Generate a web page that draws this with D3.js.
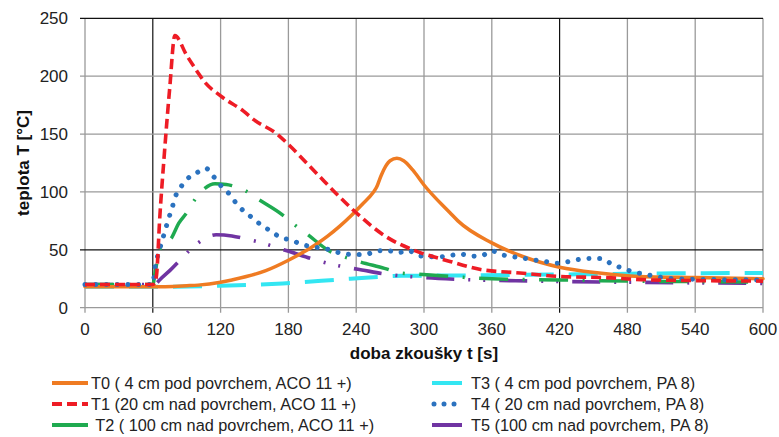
<!DOCTYPE html>
<html><head><meta charset="utf-8">
<script src="https://cdn.jsdelivr.net/npm/d3@7"></script>
<style>body{margin:0;background:#fff}svg{display:block}text{font-family:"Liberation Sans",Arial,sans-serif}</style>
</head><body>
<svg id="c" width="779" height="437"></svg>
<script>
const xTicks = [0,60,120,180,240,300,360,420,480,540,600];
const yTicks = [0,50,100,150,200,250];
const seriesNames = [
  "T0 ( 4 cm pod povrchem, ACO 11 +)",
  "T1 (20 cm nad povrchem, ACO 11 +)",
  " T2 ( 100 cm nad povrchem, ACO 11 +)",
  "T3 ( 4 cm pod povrchem, PA 8)",
  "T4 ( 20 cm nad povrchem, PA 8)",
  "T5 (100 cm nad povrchem, PA 8)"
];
const t0 = [[0,18],[60,18],[90,19],[100,19.5],[120,22],[130,24],[160,32],[180,41],[205,55],[215,62],[225,70],[235,79],[245,89],[255,99.5],[258,104],[262,114],[266,122],[270,127],[276,129],[282,127],[290,119],[300,106],[323,82],[330,75],[360,56],[388,44],[420,35],[455,30],[490,27],[540,26],[600,25]];
const t1 = [[0,20],[60,20],[62,22],[63.5,30],[66,75],[70,130],[75,190],[79.5,235],[90,218],[100,203],[105,196],[120,183],[140,170],[150,162],[170,150],[180,141],[205,116],[225,96],[240,82],[267,61],[290,50],[323,40],[350,33],[385,30],[420,27],[460,26],[500,24],[600,23]];
const t2 = [[0,20],[60,20],[62,30],[66,50],[77,61],[83,73],[90,82],[97,93],[106,103],[115,107],[125,106.5],[130,105.5],[142,101],[152,94.5],[175,80],[185,72],[196,64],[218,48],[229,44],[242,40],[265,34],[279,30],[294,29],[323,27],[360,25],[420,24],[480,23],[540,22.5],[600,22]];
const t3 = [[0,18],[60,18],[120,19],[175,21],[235,25],[280,27.5],[350,28],[450,29],[520,29.7],[600,30]];
const t4 = [[0,20],[60,20],[62,35],[65,47],[66.5,52],[71,67],[74,77],[77,86],[80,96],[85,104.5],[91,111.7],[99,116.6],[107,120.4],[114,113],[121,104.5],[128,98],[134,90],[141,83],[149,77],[156,71.4],[164,66.5],[173,60.8],[182,58.5],[192,54.7],[201,52.7],[209,51.6],[218,49.8],[229,46.4],[238,46],[248,46],[258,49],[267,49.5],[277,47.5],[286,49.5],[295,45],[305,44],[314,44],[323,45],[332,46.4],[342,44.5],[351,45],[360,49],[370,45.5],[379,44],[389,42.6],[399,41],[408,39.8],[418,38.3],[428,39.8],[438,41.9],[448,42.6],[457,42.6],[466,37.7],[476,34],[485,31],[495,29],[505,27],[514,25.6],[540,24.5],[600,24]];
const t5 = [[0,20],[60,20],[63,21],[66,24],[75,32],[84,41],[93,50],[104,58.5],[116,63],[130,62],[142,59.5],[155,56.5],[168,52.5],[181,48.5],[205,41],[218,37.6],[231,35],[245,32.6],[270,28.5],[300,26],[330,24.5],[400,23],[480,22],[600,21]];

const data = [t0,t1,t2,t3,t4,t5];
const colors = ["#EF7B22","#EE1C25","#1FAA50","#33E6F2","#2B72BF","#7034A2"];
const widths = [3.5,3.6,3.5,4,5,3.6];
const dashes = [null,"10 5","29 14.5 2 14.5","29 15","0.01 10.7","28 14 2 13 2 14"];
const caps = ["round","butt","butt","butt","round","butt"];

const svg = d3.select("#c");
const L=85,R=763,T=18.3,B=307.7;
const x = d3.scaleLinear().domain([0,600]).range([L,R]);
const y = d3.scaleLinear().domain([0,250]).range([B,T]);

// grid
const g = svg.append("g");
xTicks.forEach(v=>{
  const dark = (v===60||v===420);
  g.append("line").attr("x1",x(v)).attr("x2",x(v)).attr("y1",T).attr("y2",B+5)
   .attr("stroke",dark?"#111":"#9a9a9a").attr("stroke-width",dark?1.2:1.3);
});
yTicks.forEach(v=>{
  const dark = (v===50||v===250);
  g.append("line").attr("x1",L-5).attr("x2",R).attr("y1",y(v)).attr("y2",y(v))
   .attr("stroke",dark?"#111":"#9a9a9a").attr("stroke-width",dark?1.2:1.3);
});
// tick labels
svg.append("g").selectAll("text").data(yTicks).join("text")
  .attr("x",68).attr("y",d=>y(d)).attr("dy","0.36em").attr("text-anchor","end")
  .attr("font-size",17).attr("fill","#222").text(d=>d);
svg.append("g").selectAll("text").data(xTicks).join("text")
  .attr("x",d=>x(d)).attr("y",335).attr("text-anchor","middle")
  .attr("font-size",17).attr("fill","#222").text(d=>d);
svg.append("text").attr("x",(L+R)/2).attr("y",359).attr("text-anchor","middle")
  .attr("font-size",17).attr("font-weight","bold").attr("fill","#111").text("doba zkoušky t [s]");
svg.append("text").attr("transform",`translate(29,${(T+B)/2}) rotate(-90)`).attr("text-anchor","middle")
  .attr("font-size",17).attr("font-weight","bold").attr("fill","#111").text("teplota T [°C]");

const line = d3.line().x(d=>x(d[0])).y(d=>y(d[1])).curve(d3.curveMonotoneX);
const order = [3,5,2,0,4,1];
order.forEach(i=>{
  svg.append("path").datum(data[i]).attr("d",line).attr("fill","none")
    .attr("stroke",colors[i]).attr("stroke-width",widths[i])
    .attr("stroke-dasharray",dashes[i]).attr("stroke-linecap",caps[i]).attr("stroke-linejoin","round");
});

// legend
const legDash = [null,"10 5",null,null,"0.01 10",null];
seriesNames.forEach((n,i)=>{
  const col = i<3?0:1, row = i%3;
  const x0 = col===0?52:432, x1 = col===0?88:462, tx = col===0?91:471;
  const yy = 383 + row*21;
  svg.append("line").attr("x1",i===4?x0+2:x0).attr("x2",x1).attr("y1",yy).attr("y2",yy)
    .attr("stroke",colors[i]).attr("stroke-width",i===4?5:4)
    .attr("stroke-dasharray",legDash[i]).attr("stroke-linecap",i===4?"round":"butt");
  svg.append("text").attr("x",tx).attr("y",yy).attr("dy","0.36em").attr("font-size",16.3)
    .attr("fill","#222").attr("xml:space","preserve").style("white-space","pre").text(n);
});
</script>
</body></html>
